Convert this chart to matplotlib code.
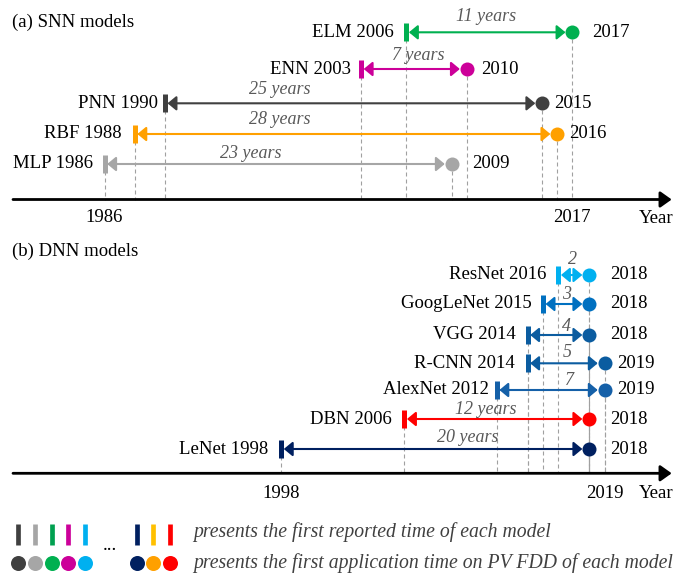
import matplotlib
matplotlib.use("Agg")
import matplotlib.pyplot as plt
from matplotlib.transforms import blended_transform_factory

plt.rcParams['font.family'] = ['Liberation Serif', 'DejaVu Serif']

# ---------------- data ----------------
snn_models = ["ELM", "ENN", "PNN", "RBF", "MLP"]
snn_start = [2006, 2003, 1990, 1988, 1986]
snn_end = [2017, 2010, 2015, 2016, 2009]
snn_span = ["11 years", "7 years", "25 years", "28 years", "23 years"]
snn_colors = ["#00B050", "#CC0099", "#404040", "#FFA000", "#A6A6A6"]
snn_ticks = [1986, 2017]

dnn_models = ["ResNet", "GoogLeNet", "VGG", "R-CNN", "AlexNet", "DBN", "LeNet"]
dnn_start = [2016, 2015, 2014, 2014, 2012, 2006, 1998]
dnn_end = [2018, 2018, 2018, 2019, 2019, 2018, 2018]
dnn_span = ["2", "3", "4", "5", "7", "12 years", "20 years"]
dnn_colors = ["#00B0F0", "#0070C0", "#0B5CA0", "#0B5CA0", "#1560A8", "#FF0000", "#002060"]
dnn_ticks = [1998, 2019]

legend_bar_colors = ["#404040", "#A6A6A6", "#00A050", "#CC0099", "#00B0F0",
                     "#002060", "#FFC000", "#FF0000"]
legend_dot_colors = ["#404040", "#A6A6A6", "#00B050", "#CC0099", "#00B0F0",
                     "#002060", "#FFA000", "#FF0000"]
legend_texts = ["presents the first reported time of each model",
                "presents the first application time on PV FDD of each model"]

# ---------------- layout (pixels) ----------------
W, H, DPI = 674, 573, 100
PX = 72.0 / DPI  # points per pixel
FS = 13.5

fig = plt.figure(figsize=(W / DPI, H / DPI), dpi=DPI)

def make_ax(top, bottom, xlim):
    ax = fig.add_axes([0, (H - bottom) / H, 1, (bottom - top) / H])
    ax.set_xlim(*xlim)
    ax.set_ylim(bottom, top)
    ax.axis('off')
    return ax

def draw_panel(ax, title, title_y, models, starts, ends, spans, colors, rows,
               span_shift, span_dy, right_off, left_gap, axis_y, ticks, tick_y):
    ax.text(12 / W, title_y, title, transform=blended_transform_factory(ax.transAxes, ax.transData),
            ha='left', va='center', fontsize=FS)
    for m, s, e, sp, c, y, sh, dy, ro, lg in zip(models, starts, ends, spans, colors, rows,
                                                  span_shift, span_dy, right_off, left_gap):
        # dashed drop lines
        for xv in (s, e):
            ax.plot([xv, xv], [y, axis_y], color='#A0A0A0', lw=0.8,
                    linestyle=(0, (3.6, 2.7)), zorder=1)
        # double arrow
        ax.annotate('', xy=(e, y), xytext=(s, y),
                    arrowprops=dict(arrowstyle='<|-|>,head_length=0.35,head_width=0.29',
                                    mutation_scale=15, lw=1.5, color=c,
                                    shrinkA=2.6 * PX, shrinkB=6.8 * PX),
                    zorder=2)
        ax.plot([s], [y], marker='|', ms=17.5 * PX, mew=5 * PX, color=c, zorder=3)
        ax.plot([e], [y], marker='o', ms=14 * PX, mew=0, color=c, zorder=3)
        ax.annotate(f"{m} {s}", xy=(s, y), xytext=(-lg * PX, 0), textcoords='offset points',
                    ha='right', va='center', fontsize=FS)
        ax.annotate(f"{e}", xy=(e, y), xytext=(ro * PX, 0), textcoords='offset points',
                    ha='left', va='center', fontsize=FS)
        ax.annotate(sp, xy=((s + e) / 2 + sh, y + dy), ha='center', va='center',
                    fontsize=FS - 0.5, style='italic', color='#595959')
    bt = blended_transform_factory(ax.transAxes, ax.transData)
    ax.annotate('', xy=(671.7 / W, axis_y), xytext=(13 / W, axis_y),
                xycoords=bt, textcoords=bt,
                arrowprops=dict(arrowstyle='-|>,head_length=0.45,head_width=0.32',
                                mutation_scale=15, lw=2.0, color='black',
                                shrinkA=0, shrinkB=0))
    for t in ticks:
        ax.text(t, tick_y, str(t), ha='center', va='center', fontsize=FS)
    ax.text(639 / W, tick_y + 1, "Year", transform=bt, ha='left', va='center', fontsize=FS)

# Panel (a)
ax_a = make_ax(0, 230, (1979.07, 2023.74))
draw_panel(ax_a, "(a) SNN models", 22.5, snn_models, snn_start, snn_end, snn_span, snn_colors,
           rows=[32.3, 69, 103.3, 134, 164],
           span_shift=[-0.2, 0.3, -4.9, -4.4, -1.8],
           span_dy=[-15.6, -13, -13.3, -14, -11],
           right_off=[20, 14, 12, 12, 21],
           left_gap=[13, 10, 7, 13, 11.5],
           axis_y=199.5, ticks=snn_ticks, tick_y=217)

# Panel (b)
ax_b = make_ax(230, 510, (1979.74, 2023.51))
draw_panel(ax_b, "(b) DNN models", 251.7, dnn_models, dnn_start, dnn_end, dnn_span, dnn_colors,
           rows=[275, 304, 335, 363.3, 390, 419, 449],
           span_shift=[-0.09, 0.06, 0.5, 0.1, 1.2, -0.7, 2.1],
           span_dy=[-15.7, -9, -8, -10.6, -9.3, -9.7, -11.7],
           right_off=[21, 21, 21, 12.5, 12.5, 21, 21],
           left_gap=[11.5, 11.2, 11.5, 12.5, 8, 12.5, 13],
           axis_y=473.3, ticks=dnn_ticks, tick_y=493)

# Legend
ax_l = make_ax(510, 573, (0, W))
bar_x = [18.3, 35, 51.7, 68.3, 85, 136.7, 153.3, 170]
for xv, c in zip(bar_x, legend_bar_colors):
    ax_l.plot([xv], [534], marker='|', ms=21 * PX, mew=4.7 * PX, color=c)
for xv, c in zip(bar_x, legend_dot_colors):
    ax_l.plot([xv], [562.7], marker='o', ms=15 * PX, mew=0, color=c)
ax_l.text(110, 546, "...", ha='center', va='center', fontsize=FS)
ax_l.text(193, 532.5, legend_texts[0], ha='left', va='center', fontsize=14.2,
          style='italic', color='#404040')
ax_l.text(193, 563, legend_texts[1], ha='left', va='center', fontsize=14.2,
          style='italic', color='#404040')

fig.savefig("out.png", dpi=DPI)
